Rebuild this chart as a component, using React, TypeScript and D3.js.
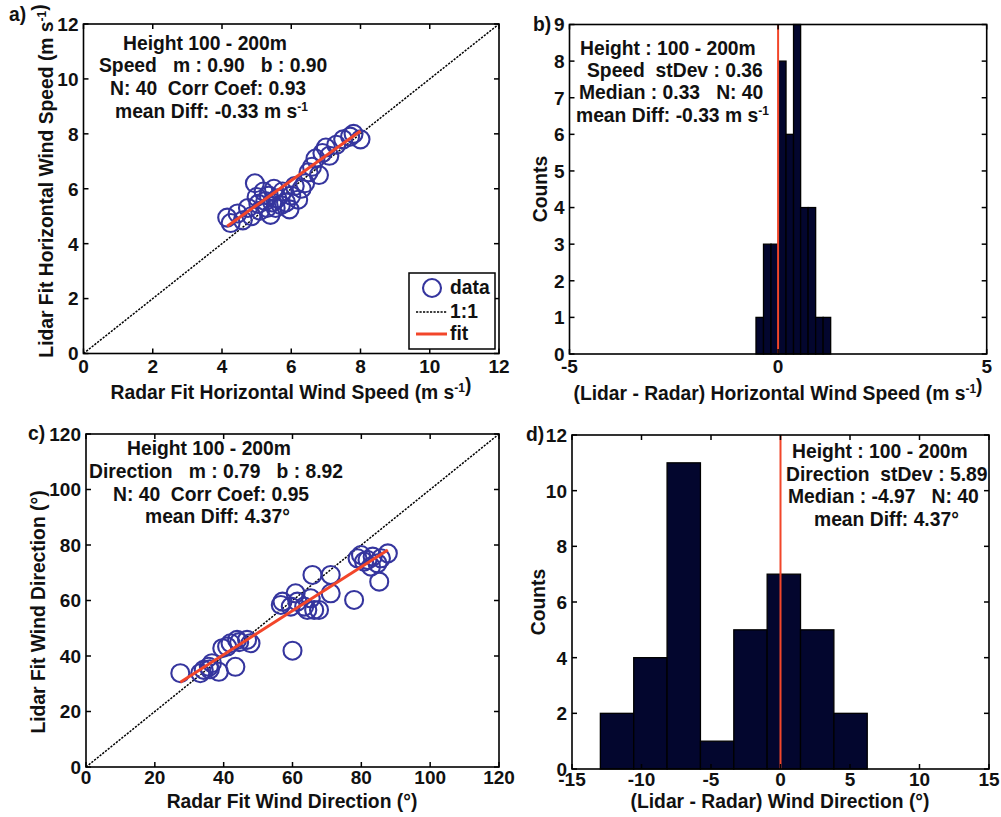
import React from 'react';
import * as d3 from 'd3';

// ---------- data ----------
const speedTicks = [0, 2, 4, 6, 8, 10, 12];
const radarSpeed = [4.15, 4.25, 4.45, 4.6, 4.75, 4.85, 4.95, 5.0, 5.05, 5.1, 5.2, 5.25, 5.3, 5.35, 5.4, 5.45, 5.5, 5.55, 5.6, 5.7, 5.75, 5.85, 5.95, 6.0, 6.1, 6.2, 6.3, 6.4, 6.5, 6.6, 6.7, 6.8, 6.9, 7.0, 7.1, 7.3, 7.5, 7.7, 7.8, 8.0];
const lidarSpeed = [4.95, 4.75, 5.1, 4.85, 5.3, 5.0, 6.2, 5.7, 5.45, 5.2, 5.9, 5.55, 5.3, 5.75, 5.05, 5.5, 6.0, 5.3, 5.65, 5.4, 5.9, 5.5, 5.25, 5.75, 6.1, 5.6, 6.0, 6.2, 6.6, 6.8, 7.1, 6.5, 7.3, 7.5, 7.2, 7.6, 7.8, 7.9, 8.0, 7.8];
const speedFitM = 0.9;
const speedFitB = 0.9;

const dirTicks = [0, 20, 40, 60, 80, 100, 120];
const radarDir = [27.4, 33.2, 34.2, 35.7, 36.6, 38.6, 39.6, 41.0, 42.0, 43.4, 43.9, 46.8, 47.8, 56.6, 57.1, 59.5, 60.0, 60.9, 61.4, 63.4, 64.3, 65.3, 65.8, 66.3, 67.7, 71.1, 71.1, 77.9, 78.9, 79.9, 80.8, 81.8, 82.8, 83.3, 84.7, 85.2, 85.7, 87.7, 36.0, 44.5];
const lidarDir = [33.8, 33.8, 35.0, 36.1, 37.4, 34.3, 42.8, 43.4, 44.6, 36.1, 45.8, 45.8, 44.6, 58.4, 59.6, 57.8, 41.9, 62.6, 59.6, 57.8, 56.6, 60.8, 69.2, 56.6, 56.6, 69.2, 62.6, 60.2, 75.2, 76.4, 74.0, 74.6, 72.2, 75.8, 73.4, 66.8, 75.2, 77.0, 35.2, 45.0];
const dirFitM = 0.79;
const dirFitB = 8.92;

const speedDiffTicksX = [-5, 0, 5];
const speedDiffTicksY = [0, 1, 2, 3, 4, 5, 6, 7, 8, 9];
const speedDiffEdges = [-0.53, -0.35, -0.17, 0.01, 0.19, 0.37, 0.54, 0.72, 0.9, 1.08, 1.26];
const speedDiffCounts = [1, 3, 3, 8, 6, 9, 4, 4, 1, 1];

const dirDiffTicksX = [-15, -10, -5, 0, 5, 10, 15];
const dirDiffTicksY = [0, 2, 4, 6, 8, 10, 12];
const dirDiffEdges = [-12.96, -10.56, -8.16, -5.76, -3.36, -0.96, 1.44, 3.84, 6.24];
const dirDiffCounts = [2, 4, 11, 1, 5, 7, 5, 2];

const FONT = '"Liberation Sans", Arial, Helvetica, sans-serif';
const FS = 19.3;
const TFS = 19;
const BLUE = '#35359e';
const RED = '#f2462a';
const BAR = '#03062e';

type Box = { x0: number; x1: number; y0: number; y1: number };
const boxA: Box = { x0: 83.5, x1: 499, y0: 24, y1: 353.5 };
const boxB: Box = { x0: 569.5, x1: 986.7, y0: 24.5, y1: 354 };
const boxC: Box = { x0: 86, x1: 499, y0: 434, y1: 767 };
const boxD: Box = { x0: 572, x1: 989, y0: 435, y1: 769 };

const T = (p: any) => (
  <text fontFamily={FONT} fontWeight="bold" fontSize={FS} fill="#111" style={{ whiteSpace: 'pre' }} {...p} />
);

function Sup({ base, sup }: { base: string; sup: string }) {
  return (
    <>
      {base}
      <tspan dy={-7.5} fontSize={12}>{sup}</tspan>
      <tspan dy={7.5}>{''}</tspan>
    </>
  );
}

function Frame({ box, x, y, xt, yt, lab }: { box: Box; x: any; y: any; xt: number[]; yt: number[]; lab: number }) {
  const tl = 5;
  return (
    <g>
      {xt.map((t) => (
        <g key={'x' + t}>
          <line x1={x(t)} x2={x(t)} y1={box.y1} y2={box.y1 - tl} stroke="#000" strokeWidth={1.5} />
          <line x1={x(t)} x2={x(t)} y1={box.y0} y2={box.y0 + tl} stroke="#000" strokeWidth={1.5} />
          <T x={x(t)} y={box.y1 + lab} textAnchor="middle" fontSize={TFS}>{String(t)}</T>
        </g>
      ))}
      {yt.map((t) => (
        <g key={'y' + t}>
          <line x1={box.x0} x2={box.x0 + tl} y1={y(t)} y2={y(t)} stroke="#000" strokeWidth={1.5} />
          <line x1={box.x1} x2={box.x1 - tl} y1={y(t)} y2={y(t)} stroke="#000" strokeWidth={1.5} />
          <T x={box.x0 - 5} y={y(t)} dy="0.36em" textAnchor="end" fontSize={TFS}>{String(t)}</T>
        </g>
      ))}
      <rect x={box.x0} y={box.y0} width={box.x1 - box.x0} height={box.y1 - box.y0} fill="none" stroke="#000" strokeWidth={1.6} />
    </g>
  );
}

function Scatter({ box, ticks, xs, ys, m, b, lab }: { box: Box; ticks: number[]; xs: number[]; ys: number[]; m: number; b: number; lab: number }) {
  const dom = [ticks[0], ticks[ticks.length - 1]];
  const x = d3.scaleLinear().domain(dom).range([box.x0, box.x1]);
  const y = d3.scaleLinear().domain(dom).range([box.y1, box.y0]);
  const [xmin, xmax] = d3.extent(xs) as [number, number];
  const line = d3.line<number[]>().x((d) => x(d[0])).y((d) => y(d[1]));
  return (
    <g>
      <path d={line([[dom[0], dom[0]], [dom[1], dom[1]]]) || ''} stroke="#000" strokeWidth={1.5} strokeDasharray="2.2,1.3" fill="none" />
      {xs.map((v, i) => (
        <circle key={i} cx={x(v)} cy={y(ys[i])} r={9} fill="none" stroke={BLUE} strokeWidth={2.1} />
      ))}
      <path d={line([[xmin, m * xmin + b], [xmax, m * xmax + b]]) || ''} stroke={RED} strokeWidth={3} fill="none" />
      <Frame box={box} x={x} y={y} xt={ticks} yt={ticks} lab={lab} />
    </g>
  );
}

function Hist({ box, xt, yt, edges, counts, lab }: { box: Box; xt: number[]; yt: number[]; edges: number[]; counts: number[]; lab: number }) {
  const x = d3.scaleLinear().domain([xt[0], xt[xt.length - 1]]).range([box.x0, box.x1]);
  const y = d3.scaleLinear().domain([yt[0], yt[yt.length - 1]]).range([box.y1, box.y0]);
  return (
    <g>
      {counts.map((c, i) => (
        <rect key={i} x={x(edges[i])} y={y(c)} width={x(edges[i + 1]) - x(edges[i])} height={y(0) - y(c)} fill={BAR} stroke="#000" strokeWidth={1.3} />
      ))}
      <line x1={x(0)} x2={x(0)} y1={box.y0} y2={box.y1} stroke={RED} strokeWidth={2} />
      <Frame box={box} x={x} y={y} xt={xt} yt={yt} lab={lab} />
    </g>
  );
}

export default function App() {
  return (
    <svg width={1001} height={817} style={{ position: 'absolute', left: 0, top: 0, background: '#fff' }}>
      <rect width={1001} height={817} fill="#fff" />
      {/* Panel a */}
      <Scatter box={boxA} ticks={speedTicks} xs={radarSpeed} ys={lidarSpeed} m={speedFitM} b={speedFitB} lab={19} />
      <T x={9} y={21}>a)</T>
      <T x={123} y={50}>Height 100 - 200m</T>
      <T x={99} y={72}>Speed   m : 0.90   b : 0.90</T>
      <T x={110} y={95}>N: 40  Corr Coef: 0.93</T>
      <T x={115} y={118}><Sup base="mean Diff: -0.33 m s" sup="-1" /></T>
      <T x={291} y={399} textAnchor="middle"><Sup base="Radar Fit Horizontal Wind Speed (m s" sup="-1" />)</T>
      <T transform="translate(53,181) rotate(-90)" textAnchor="middle"><Sup base="Lidar Fit Horizontal Wind Speed (m s" sup="-1" />)</T>
      {/* legend */}
      <g>
        <rect x={409} y={273} width={86} height={76} fill="#fff" stroke="#000" strokeWidth={1.5} />
        <circle cx={432} cy={288} r={9} fill="none" stroke={BLUE} strokeWidth={2.1} />
        <T x={450} y={294}>data</T>
        <line x1={416} x2={447} y1={312} y2={312} stroke="#000" strokeWidth={1.5} strokeDasharray="2.2,1.3" />
        <T x={450} y={318}>1:1</T>
        <line x1={416} x2={447} y1={334} y2={334} stroke={RED} strokeWidth={3} />
        <T x={450} y={340}>fit</T>
      </g>

      {/* Panel b */}
      <Hist box={boxB} xt={speedDiffTicksX} yt={speedDiffTicksY} edges={speedDiffEdges} counts={speedDiffCounts} lab={19} />
      <T x={533} y={31}>b)</T>
      <T x={580} y={55}>Height : 100 - 200m</T>
      <T x={587} y={77}>Speed  stDev : 0.36</T>
      <T x={579} y={99}>Median : 0.33   N: 40</T>
      <T x={576} y={122}><Sup base="mean Diff: -0.33 m s" sup="-1" /></T>
      <T x={778} y={400} textAnchor="middle"><Sup base="(Lidar - Radar) Horizontal Wind Speed (m s" sup="-1" />)</T>
      <T transform="translate(547,189) rotate(-90)" textAnchor="middle">Counts</T>

      {/* Panel c */}
      <Scatter box={boxC} ticks={dirTicks} xs={radarDir} ys={lidarDir} m={dirFitM} b={dirFitB} lab={17} />
      <T x={28} y={440}>c)</T>
      <T x={127} y={455}>Height 100 - 200m</T>
      <T x={89} y={478}>Direction   m : 0.79   b : 8.92</T>
      <T x={113} y={501}>N: 40  Corr Coef: 0.95</T>
      <T x={145} y={523}>mean Diff: 4.37°</T>
      <T x={292} y={808} textAnchor="middle">Radar Fit Wind Direction (°)</T>
      <T transform="translate(45,612) rotate(-90)" textAnchor="middle">Lidar Fit Wind Direction (°)</T>

      {/* Panel d */}
      <Hist box={boxD} xt={dirDiffTicksX} yt={dirDiffTicksY} edges={dirDiffEdges} counts={dirDiffCounts} lab={17} />
      <T x={526} y={441}>d)</T>
      <T x={792} y={458}>Height : 100 - 200m</T>
      <T x={786} y={481}>Direction  stDev : 5.89</T>
      <T x={788} y={503}>Median : -4.97   N: 40</T>
      <T x={814} y={526}>mean Diff: 4.37°</T>
      <T x={780} y={808} textAnchor="middle">(Lidar - Radar) Wind Direction (°)</T>
      <T transform="translate(545,602) rotate(-90)" textAnchor="middle">Counts</T>
    </svg>
  );
}
